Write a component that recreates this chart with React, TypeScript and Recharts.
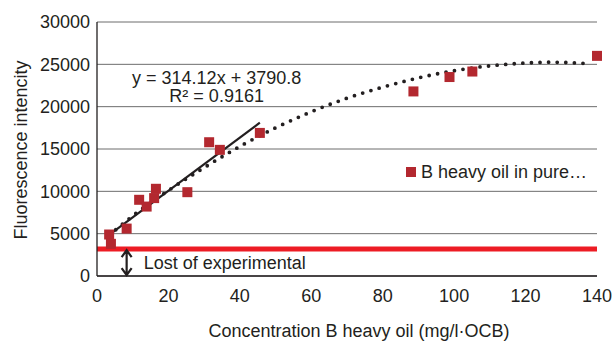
import React from "react";
import {
  ComposedChart,
  Scatter,
  Line,
  XAxis,
  YAxis,
  CartesianGrid,
  ReferenceLine,
  ReferenceDot,
  Legend,
} from "recharts";

// measured points
const concentration = [3.4, 3.9, 8.3, 11.8, 13.9, 16, 16.5, 25.3, 31.4, 34.4, 45.6, 88.6, 98.7, 105.1, 140];
const intensity = [4900, 3800, 5600, 9000, 8200, 9200, 10300, 9900, 15800, 14900, 16900, 21800, 23500, 24150, 26000];

// linear trendline (ends)
const linearX = [3.4, 45.6];
const linearY = [4860, 18110];

// dotted polynomial trendline
const polyX = [3.4, 10, 20, 30, 40, 50, 60, 70, 80, 90, 100, 110, 120, 127, 137];
const polyY = [4800, 7100, 10100, 12800, 15300, 17500, 19400, 21000, 22300, 23400, 24250, 24820, 25150, 25250, 25100];

const xTicks = [0, 20, 40, 60, 80, 100, 120, 140];
const yTicks = [0, 5000, 10000, 15000, 20000, 25000, 30000];

const lostLevel = 3200;
const arrowX = 8.3;
const arrowTop = 3050;
const arrowBottom = 100;
const equationLines = ["y = 314.12x + 3790.8", "R\u00b2 = 0.9161"];
const equationX = 33.5;
const equationY = 23500;
const seriesName = "B heavy oil in pure\u2026";

const points = concentration.map((x, i) => ({ x, y: intensity[i] }));
const linear = linearX.map((x, i) => ({ x, y: linearY[i] }));
const poly = polyX.map((x, i) => ({ x, y: polyY[i] }));

const FONT = "'Liberation Sans', Arial, sans-serif";
const INK = "#231f20";
const RED_DOT = "#b3282f";

const Square = (props: any) => {
  const { cx, cy } = props;
  if (cx == null || cy == null) return null;
  return <rect x={cx - 5} y={cy - 5} width={10} height={10} fill={RED_DOT} />;
};

const Arrow = (props: any) => {
  const { x1, y1, y2 } = props;
  const x = x1;
  const top = Math.min(y1, y2);
  const bottom = Math.max(y1, y2);
  return (
    <g>
      <path
        d={`M${x},${top} L${x},${bottom} M${x - 5},${top + 7} L${x},${top} L${x + 5},${top + 7} M${x - 5},${bottom - 7} L${x},${bottom} L${x + 5},${bottom - 7}`}
        stroke={INK}
        strokeWidth={2.2}
        fill="none"
      />
      <text x={x + 17} y={(top + bottom) / 2 + 6.5} fontSize={18} fontFamily={FONT} fill={INK}>
        Lost of experimental
      </text>
    </g>
  );
};

const Equation = (props: any) => {
  const { cx, cy } = props;
  return (
    <g fontSize={18} fontFamily={FONT} fill={INK} textAnchor="middle">
      <text x={cx} y={cy + 6.5}>{equationLines[0]}</text>
      <text x={cx} y={cy + 24.5}>{equationLines[1]}</text>
    </g>
  );
};

const XTitle = (props: any) => {
  const { viewBox } = props;
  return (
    <text
      x={viewBox.x + viewBox.width / 2 + 12}
      y={viewBox.y + viewBox.height + 31}
      textAnchor="middle"
      fontSize={18}
      fontFamily={FONT}
      fill={INK}
    >
      Concentration B heavy oil (mg/l·OCB)
    </text>
  );
};

const YTitle = (props: any) => {
  const { viewBox } = props;
  const cx = 26.5;
  const cy = viewBox.y + viewBox.height / 2 + 1;
  return (
    <text
      x={cx}
      y={cy}
      transform={`rotate(-90, ${cx}, ${cy})`}
      textAnchor="middle"
      fontSize={18}
      fontFamily={FONT}
      fill={INK}
    >
      Fluorescence intencity
    </text>
  );
};

const LegendBox = () => (
  <div style={{ display: "flex", alignItems: "center", fontFamily: FONT, fontSize: 18, color: INK, lineHeight: "18px", whiteSpace: "nowrap" }}>
    <span style={{ width: 10, height: 10, background: RED_DOT, display: "inline-block", marginRight: 5 }} />
    <span>{seriesName}</span>
  </div>
);

export default function App() {
  return (
    <div style={{ position: "absolute", left: 0, top: 0, background: "#fff" }}>
      <ComposedChart width={614} height={342} margin={{ top: 22, right: 17, bottom: 36, left: 12 }}>
        <CartesianGrid vertical={false} stroke="#6d6d6d" strokeWidth={1} />
        <XAxis
          type="number"
          dataKey="x"
          domain={[0, 140]}
          ticks={xTicks}
          height={30}
          tickLine={false}
          tickSize={0}
          tickMargin={13}
          axisLine={{ stroke: INK, strokeWidth: 1.3 }}
          tick={{ fontSize: 18, fill: INK, fontFamily: FONT }}
          label={<XTitle />}
        />
        <YAxis
          type="number"
          dataKey="y"
          domain={[0, 30000]}
          ticks={yTicks}
          width={85}
          tickLine={false}
          tickSize={0}
          tickMargin={7}
          axisLine={{ stroke: INK, strokeWidth: 1.3 }}
          tick={{ fontSize: 18, fill: INK, fontFamily: FONT }}
          label={<YTitle />}
        />
        <ReferenceLine y={lostLevel} stroke="#ed1c24" strokeWidth={5} />
        <Line
          data={poly}
          dataKey="y"
          type="monotone"
          stroke={INK}
          strokeWidth={3.8}
          strokeDasharray="0 8.6"
          strokeLinecap="round"
          dot={false}
          activeDot={false}
          legendType="none"
          isAnimationActive={false}
        />
        <Line
          data={linear}
          dataKey="y"
          type="linear"
          stroke={INK}
          strokeWidth={2.2}
          dot={false}
          activeDot={false}
          legendType="none"
          isAnimationActive={false}
        />
        <Scatter data={points} name={seriesName} shape={<Square />} isAnimationActive={false} />
        <ReferenceLine
          segment={[
            { x: arrowX, y: arrowTop },
            { x: arrowX, y: arrowBottom },
          ]}
          shape={(p: any) => <Arrow {...p} />}
        />
        <ReferenceDot x={equationX} y={equationY} r={0} shape={(p: any) => <Equation {...p} />} />
        <Legend
          layout="horizontal"
          verticalAlign="middle"
          align="center"
          content={<LegendBox />}
          wrapperStyle={{ left: 406, top: 163, width: "auto" }}
        />
      </ComposedChart>
    </div>
  );
}
